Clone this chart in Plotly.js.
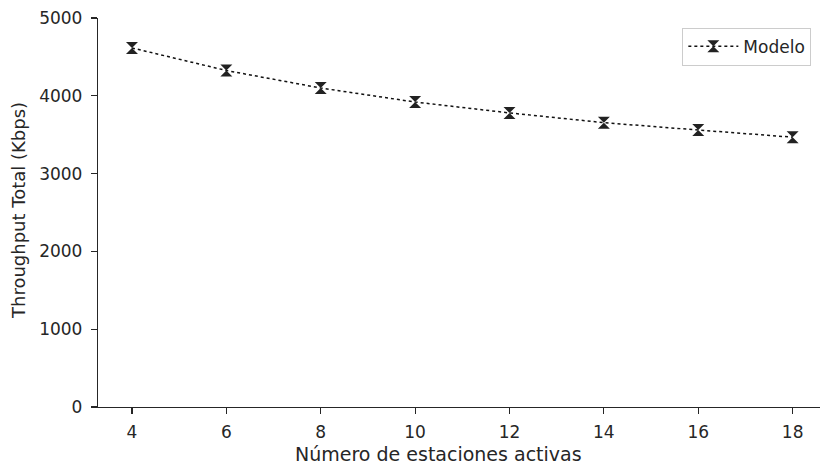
<!DOCTYPE html>
<html>
<head>
<meta charset="utf-8">
<script src="https://cdn.plot.ly/plotly-3.0.1.min.js"></script>
<style>html,body{margin:0;padding:0;background:#fff;}#chart{width:820px;height:467px;}</style>
</head>
<body>
<div id="chart"></div>
<script>
const estaciones = [4, 6, 8, 10, 12, 14, 16, 18];
const throughput = [4615, 4325, 4100, 3920, 3780, 3655, 3560, 3468];
const yTicks = [0, 1000, 2000, 3000, 4000, 5000];
const xTicks = [4, 6, 8, 10, 12, 14, 16, 18];
const xTitle = 'Número de estaciones activas';
const yTitle = 'Throughput Total (Kbps)';

const ink = '#262626';
const trace = {
  x: estaciones, y: throughput, type: 'scatter', mode: 'lines+markers', name: 'Modelo',
  line: {color: '#111', width: 1.5, dash: 'dot'},
  marker: {symbol: 'hourglass', size: 12, color: '#222', line: {width: 0}}
};
const layout = {
  width: 820, height: 467,
  margin: {l: 98, r: 0, t: 18, b: 60},
  paper_bgcolor: '#fff', plot_bgcolor: '#fff',
  font: {family: 'DejaVu Sans', size: 17, color: ink},
  showlegend: true,
  legend: {x: 0.988, y: 0.975, xanchor: 'right', yanchor: 'top', bgcolor: '#fff',
           bordercolor: '#cccccc', borderwidth: 1, itemwidth: 50,
           font: {family: 'DejaVu Sans', size: 17, color: ink}},
  xaxis: {range: [3.28, 18.58], tickvals: xTicks, ticktext: xTicks.map(String),
          showgrid: false, zeroline: false, showline: true, linecolor: ink, linewidth: 1.2,
          ticks: 'outside', ticklen: 6, tickwidth: 1.2, tickcolor: ink, ticklabelstandoff: 3,
          tickfont: {family: 'DejaVu Sans', size: 17, color: ink}},
  yaxis: {range: [0, 5000], tickvals: yTicks, ticktext: yTicks.map(String),
          showgrid: false, zeroline: false, showline: true, linecolor: ink, linewidth: 1.2,
          ticks: 'outside', ticklen: 6, tickwidth: 1.2, tickcolor: ink, ticklabelstandoff: 5,
          tickfont: {family: 'DejaVu Sans', size: 17, color: ink}},
  annotations: [
    {text: xTitle, xref: 'paper', yref: 'paper', x: (438 - 98) / 722, y: -(454 - 407) / 389,
     xanchor: 'center', yanchor: 'middle', showarrow: false,
     font: {family: 'DejaVu Sans', size: 19, color: ink}},
    {text: yTitle, xref: 'paper', yref: 'paper', x: -(98 - 18) / 722, y: (407 - 211) / 389,
     xanchor: 'center', yanchor: 'middle', showarrow: false, textangle: -90,
     font: {family: 'DejaVu Sans', size: 18, color: ink}}
  ]
};
Plotly.newPlot('chart', [trace], layout, {displayModeBar: false, staticPlot: true});
</script>
</body>
</html>
